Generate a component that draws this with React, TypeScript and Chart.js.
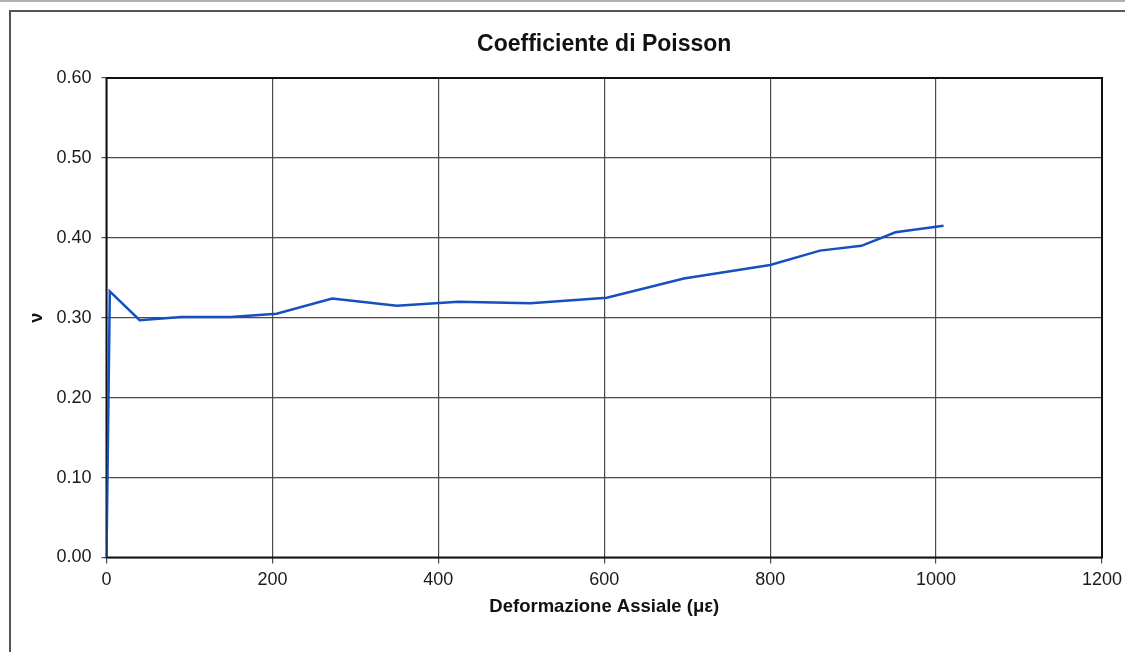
import React, { useEffect, useRef } from "react";
import { Chart, registerables } from "chart.js";

Chart.register(...registerables);

const chartTitle = "Coefficiente di Poisson";
const xAxisTitle = "Deformazione Assiale (\u03bc\u03b5)";
const yAxisTitle = "\u03bd";
const strainValues = [0, 4, 40, 90, 150, 205, 272, 350, 424, 511, 603, 696, 800, 860, 910, 951, 1009];
const poissonValues = [0, 0.333, 0.297, 0.301, 0.301, 0.305, 0.324, 0.315, 0.32, 0.318, 0.325, 0.349, 0.366, 0.384, 0.39, 0.407, 0.415];

const FONT = "'Liberation Sans', Arial, Helvetica, sans-serif";

const areaBorder = {
  id: "areaBorder",
  beforeDatasetsDraw(chart: any) {
    const { ctx, chartArea } = chart;
    ctx.save();
    ctx.strokeStyle = "#111";
    ctx.lineWidth = 2;
    ctx.strokeRect(chartArea.left, chartArea.top, chartArea.right - chartArea.left, chartArea.bottom - chartArea.top);
    ctx.restore();
  },
};

export default function App() {
  const ref = useRef<HTMLCanvasElement | null>(null);
  useEffect(() => {
    if (!ref.current) return;
    const data = strainValues.map((x, i) => ({ x, y: poissonValues[i] }));
    const chart = new Chart(ref.current, {
      type: "scatter",
      data: {
        datasets: [
          {
            data,
            showLine: true,
            borderColor: "#1550c0",
            borderWidth: 2.5,
            pointRadius: 0,
            tension: 0,
          },
        ],
      },
      plugins: [areaBorder],
      options: {
        animation: false,
        responsive: false,
        maintainAspectRatio: false,
        layout: { padding: { left: 0, right: 23, top: 0, bottom: 0 } },
        plugins: {
          legend: { display: false },
          tooltip: { enabled: false },
          title: {
            display: true,
            fullSize: false,
            text: chartTitle,
            color: "#111",
            font: { family: FONT, size: 23, weight: "bold", lineHeight: 1.2 },
            padding: { top: 31, bottom: 19.4 },
          },
        },
        scales: {
          x: {
            type: "linear",
            min: 0,
            max: 1200,
            ticks: {
              stepSize: 200,
              color: "#1a1a1a",
              font: { family: FONT, size: 18 },
              padding: 6,
              maxRotation: 0,
              callback: (v: any) => String(v),
            },
            grid: { color: "#4a4a4a", lineWidth: 1.2, tickLength: 6, tickColor: "#4a4a4a" },
            border: { display: false },
            title: {
              display: true,
              text: xAxisTitle,
              color: "#111",
              font: { family: FONT, size: 18.5, weight: "bold", lineHeight: 1.2 },
              padding: { top: 4, bottom: 34 },
            },
            afterFit(scale: any) {
              scale.height = 94.5;
              scale.paddingLeft = 0;
              scale.paddingRight = 0;
            },
          },
          y: {
            type: "linear",
            min: 0,
            max: 0.6,
            ticks: {
              stepSize: 0.1,
              color: "#1a1a1a",
              font: { family: FONT, size: 18 },
              padding: 10,
              callback: (v: any) => Number(v).toFixed(2),
            },
            grid: { color: "#4a4a4a", lineWidth: 1.2, tickLength: 5, tickColor: "#4a4a4a" },
            border: { display: false },
            title: {
              display: true,
              text: yAxisTitle,
              color: "#111",
              font: { family: FONT, size: 18, weight: "bold", lineHeight: 1.2 },
              padding: { top: 26, bottom: 4 },
            },
            afterFit(scale: any) {
              scale.width = 106.5;
              scale.paddingTop = 0;
              scale.paddingBottom = 0;
            },
          },
        },
      },
    });
    return () => chart.destroy();
  }, []);

  return (
    <div style={{ position: "fixed", left: 0, top: 0, width: 1125, height: 652, background: "#fff", overflow: "hidden" }}>
      <div style={{ position: "absolute", left: 0, top: 0, width: 1125, height: 2, background: "#b0b0b0" }} />
      <div
        style={{
          position: "absolute",
          left: 9,
          top: 10,
          width: 1130,
          height: 660,
          borderLeft: "2px solid #555",
          borderTop: "2px solid #555",
          boxSizing: "border-box",
        }}
      />
      <canvas ref={ref} width={1125} height={652} style={{ position: "absolute", left: 0, top: 0, width: 1125, height: 652 }} />
    </div>
  );
}
